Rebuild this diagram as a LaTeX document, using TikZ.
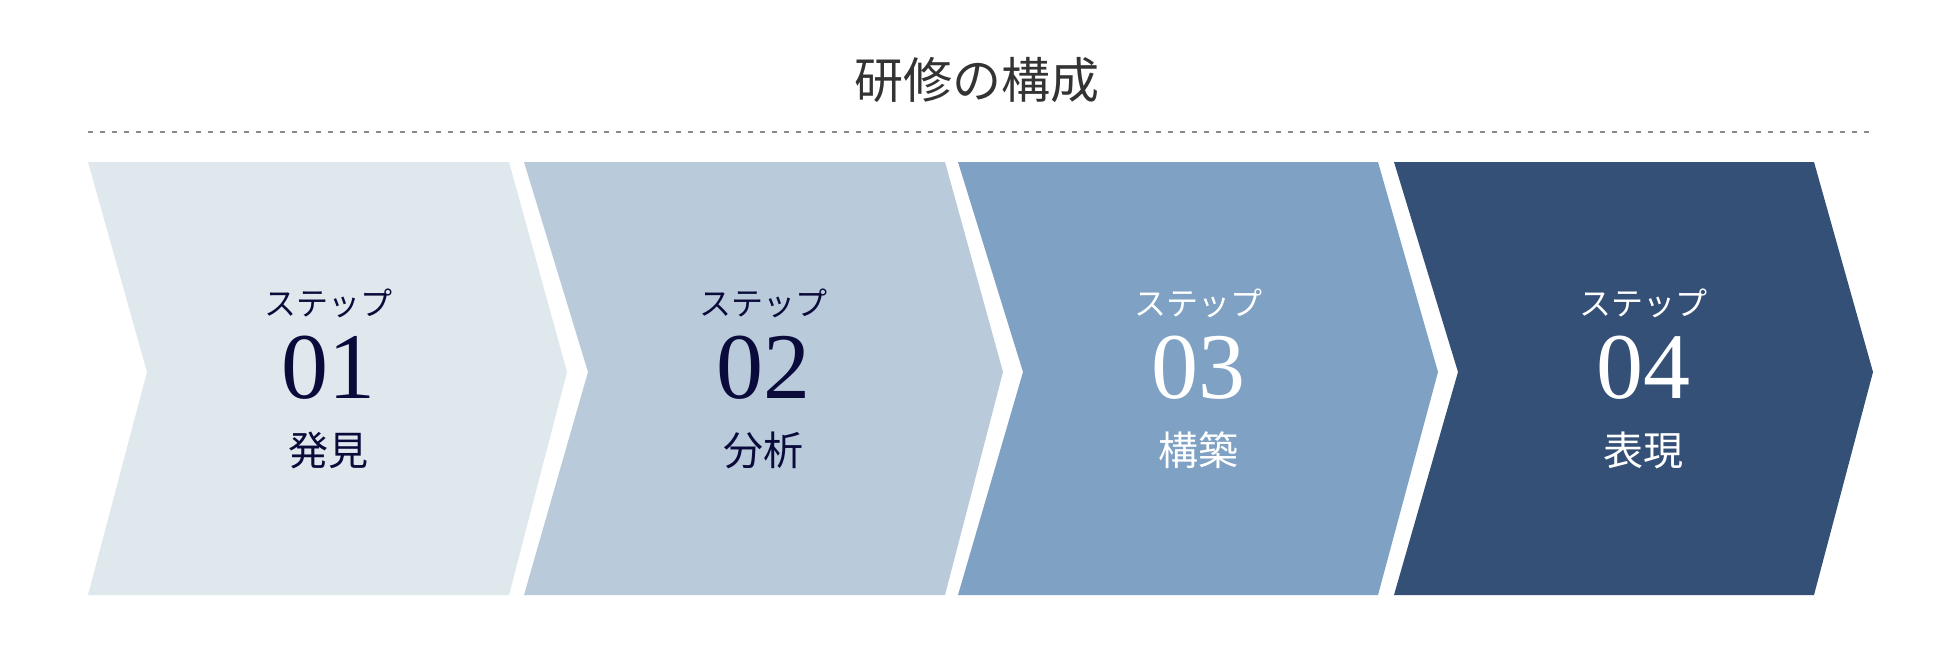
\documentclass[tikz,border=0pt]{standalone}
\usepackage{fontspec}
\setmainfont{Liberation Serif}
\newfontfamily\jp{Noto Sans CJK JP}
\definecolor{cA}{HTML}{DFE8EC}
\definecolor{cB}{HTML}{B9CBDB}
\definecolor{cC}{HTML}{7FA1C3}
\definecolor{cD}{HTML}{345077}
\definecolor{ink}{HTML}{0B0B3B}
\definecolor{titlegray}{HTML}{333333}
\definecolor{dotgray}{HTML}{8A8A8A}
\begin{document}
\begin{tikzpicture}[x=0.5pt,y=-0.5pt,
  steplabel/.style={inner sep=0pt,font=\jp\fontsize{16}{16}\selectfont},
  numlabel/.style={inner sep=0pt,anchor=base,font=\fontsize{47}{47}\selectfont},
  namelabel/.style={inner sep=0pt,font=\jp\fontsize{20}{20}\selectfont},
  dots/.style={dotgray,line width=1pt,dash pattern=on 2.5pt off 3.5pt}]
\useasboundingbox[fill=white] (0,0) rectangle (1960,650);

% title
\node[inner sep=0pt,text=titlegray,font=\jp\fontsize{24.5}{24.5}\selectfont] (title) at (977,80) {研修の構成};

% dotted rule
\coordinate (ruleL) at (88,132);
\coordinate (ruleR) at (1872,132);
\draw[dots] (ruleL) -- (ruleR);

% chevrons
\fill[cA] (88,162) -- (509,162) -- (567,372) -- (509,595) -- (88,595) -- (147,372) -- cycle;
\fill[cB] (524,162) -- (945,162) -- (1003,372) -- (945,595) -- (524,595) -- (588,372) -- cycle;
\fill[cC] (958,162) -- (1378,162) -- (1438,372) -- (1378,595) -- (958,595) -- (1023,372) -- cycle;
\fill[cD] (1394,162) -- (1814,162) -- (1873,372) -- (1814,595) -- (1394,595) -- (1458,372) -- cycle;

% step 1
\node[steplabel,text=ink] (s1) at (328,303) {ステップ};
\node[numlabel,text=ink] (n1) at (328,398) {01};
\node[namelabel,text=ink] (t1) at (328,450) {発見};
% step 2
\node[steplabel,text=ink] (s2) at (763,303) {ステップ};
\node[numlabel,text=ink] (n2) at (763,398) {02};
\node[namelabel,text=ink] (t2) at (763,450) {分析};
% step 3
\node[steplabel,text=white] (s3) at (1198,303) {ステップ};
\node[numlabel,text=white] (n3) at (1198,398) {03};
\node[namelabel,text=white] (t3) at (1198,450) {構築};
% step 4
\node[steplabel,text=white] (s4) at (1643,303) {ステップ};
\node[numlabel,text=white] (n4) at (1643,398) {04};
\node[namelabel,text=white] (t4) at (1643,450) {表現};
\end{tikzpicture}
\end{document}
